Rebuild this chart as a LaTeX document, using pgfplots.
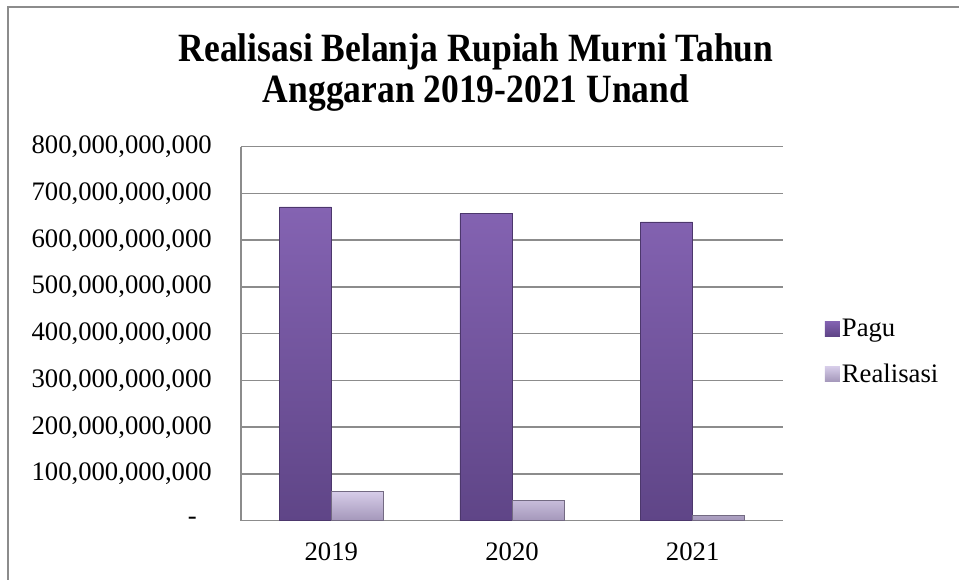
\documentclass[border=0pt]{standalone}
\usepackage{graphicx}
\usepackage{fontspec}
\setmainfont{Liberation Serif}
\usepackage{pgfplots}
\pgfplotsset{compat=1.18}
\definecolor{gridgray}{HTML}{8C8C8C}
\definecolor{pagutop}{HTML}{8463B2}
\definecolor{pagubot}{HTML}{5F4587}
\definecolor{realtop}{HTML}{D6CCE8}
\definecolor{realbot}{HTML}{A497BA}
\begin{document}
\begin{tikzpicture}[x=1pt,y=1pt]
\useasboundingbox (0,0) rectangle (959,580);
\fill[white] (0,0) rectangle (959,580);
\draw[gridgray, line width=2pt] (7.5,0) -- (7.5,572.5) -- (959,572.5);
\node[anchor=base] at (476,518) {\fontsize{35.5}{42}\selectfont\bfseries\scalebox{1}[1.13]{Realisasi Belanja Rupiah Murni Tahun}};
\node[anchor=base] at (476,477) {\fontsize{35.5}{42}\selectfont\bfseries\scalebox{1}[1.13]{Anggaran 2019-2021 Unand}};
\begin{axis}[
  at={(241pt,59.3pt)}, anchor=south west,
  scale only axis, width=542pt, height=374pt,
  xmin=-0.5, xmax=2.5, ymin=0, ymax=800000000000,
  xtick={0,1,2}, xticklabels={2019,2020,2021},
  ytick={0,1e11,2e11,3e11,4e11,5e11,6e11,7e11,8e11},
  yticklabels={-\hspace*{15pt},{100,000,000,000},{200,000,000,000},{300,000,000,000},{400,000,000,000},{500,000,000,000},{600,000,000,000},{700,000,000,000},{800,000,000,000}},
  scaled y ticks=false,
  axis x line*=bottom, axis y line*=left,
  axis line style={gridgray, line width=1.5pt, -},
  ymajorgrids, grid style={gridgray, line width=1.5pt},
  major tick length=0pt,
  tick label style={font=\fontsize{26.7}{31}\selectfont, inner sep=0pt},
  yticklabel style={anchor=east, xshift=-29pt},
  xticklabel style={anchor=north, yshift=-22pt},
  legend style={draw=none, fill=none, at={(1.077,0.452)}, anchor=west,
    font=\fontsize{26.7}{31}\selectfont, row sep=22pt,
    legend cell align=left, inner sep=0pt},
  legend image code/.code={\path[#1, draw=none] (0pt,-7.5pt) rectangle (15pt,7.5pt);},
]
\addplot[ybar, bar width=0.288, bar shift=-0.144, top color=pagutop, bottom color=pagubot, draw=pagubot!80!black, line width=0.6pt]
  coordinates {(0,671000000000) (1,657000000000) (2,639000000000)};
\addlegendentry{Pagu}
\addplot[ybar, bar width=0.288, bar shift=0.144, top color=realtop, bottom color=realbot, draw=realbot!70!black, line width=0.6pt]
  coordinates {(0,62000000000) (1,42800000000) (2,12000000000)};
\addlegendentry{Realisasi}
\end{axis}
\end{tikzpicture}
\end{document}
